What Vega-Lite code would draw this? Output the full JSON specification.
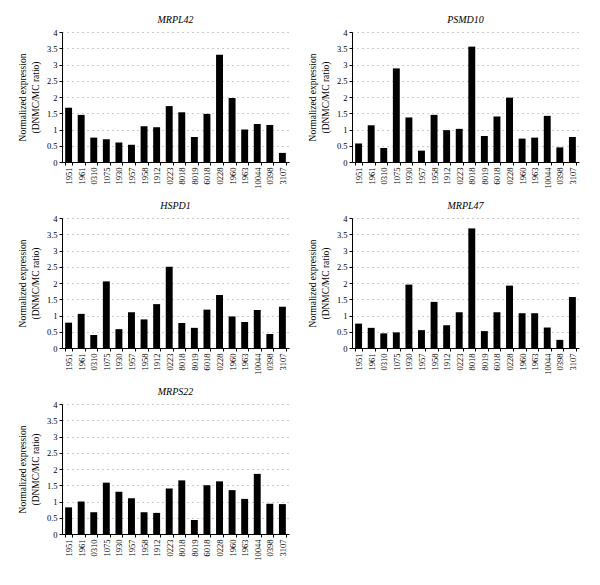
{
  "$schema": "https://vega.github.io/schema/vega-lite/v6.json",
  "background": "white",
  "padding": {"left": 17, "top": 15, "right": 5, "bottom": 5},
  "data": {"values": [
    {"gene":"MRPL42","sample":"1951","value":1.67},{"gene":"MRPL42","sample":"1961","value":1.45},{"gene":"MRPL42","sample":"0310","value":0.75},{"gene":"MRPL42","sample":"1075","value":0.70},{"gene":"MRPL42","sample":"1930","value":0.60},{"gene":"MRPL42","sample":"1957","value":0.53},{"gene":"MRPL42","sample":"1958","value":1.10},{"gene":"MRPL42","sample":"1912","value":1.07},{"gene":"MRPL42","sample":"0223","value":1.72},{"gene":"MRPL42","sample":"8018","value":1.53},{"gene":"MRPL42","sample":"8019","value":0.77},{"gene":"MRPL42","sample":"6018","value":1.48},{"gene":"MRPL42","sample":"0228","value":3.30},{"gene":"MRPL42","sample":"1960","value":1.97},{"gene":"MRPL42","sample":"1963","value":1.00},{"gene":"MRPL42","sample":"10044","value":1.17},{"gene":"MRPL42","sample":"0398","value":1.14},{"gene":"MRPL42","sample":"3107","value":0.28},
    {"gene":"PSMD10","sample":"1951","value":0.57},{"gene":"PSMD10","sample":"1961","value":1.13},{"gene":"PSMD10","sample":"0310","value":0.43},{"gene":"PSMD10","sample":"1075","value":2.88},{"gene":"PSMD10","sample":"1930","value":1.37},{"gene":"PSMD10","sample":"1957","value":0.35},{"gene":"PSMD10","sample":"1958","value":1.45},{"gene":"PSMD10","sample":"1912","value":0.98},{"gene":"PSMD10","sample":"0223","value":1.02},{"gene":"PSMD10","sample":"8018","value":3.55},{"gene":"PSMD10","sample":"8019","value":0.80},{"gene":"PSMD10","sample":"6018","value":1.40},{"gene":"PSMD10","sample":"0228","value":1.98},{"gene":"PSMD10","sample":"1960","value":0.72},{"gene":"PSMD10","sample":"1963","value":0.75},{"gene":"PSMD10","sample":"10044","value":1.42},{"gene":"PSMD10","sample":"0398","value":0.45},{"gene":"PSMD10","sample":"3107","value":0.77},
    {"gene":"HSPD1","sample":"1951","value":0.78},{"gene":"HSPD1","sample":"1961","value":1.05},{"gene":"HSPD1","sample":"0310","value":0.40},{"gene":"HSPD1","sample":"1075","value":2.05},{"gene":"HSPD1","sample":"1930","value":0.58},{"gene":"HSPD1","sample":"1957","value":1.10},{"gene":"HSPD1","sample":"1958","value":0.88},{"gene":"HSPD1","sample":"1912","value":1.35},{"gene":"HSPD1","sample":"0223","value":2.50},{"gene":"HSPD1","sample":"8018","value":0.77},{"gene":"HSPD1","sample":"8019","value":0.62},{"gene":"HSPD1","sample":"6018","value":1.18},{"gene":"HSPD1","sample":"0228","value":1.63},{"gene":"HSPD1","sample":"1960","value":0.97},{"gene":"HSPD1","sample":"1963","value":0.80},{"gene":"HSPD1","sample":"10044","value":1.17},{"gene":"HSPD1","sample":"0398","value":0.43},{"gene":"HSPD1","sample":"3107","value":1.27},
    {"gene":"MRPL47","sample":"1951","value":0.75},{"gene":"MRPL47","sample":"1961","value":0.62},{"gene":"MRPL47","sample":"0310","value":0.45},{"gene":"MRPL47","sample":"1075","value":0.48},{"gene":"MRPL47","sample":"1930","value":1.95},{"gene":"MRPL47","sample":"1957","value":0.55},{"gene":"MRPL47","sample":"1958","value":1.42},{"gene":"MRPL47","sample":"1912","value":0.70},{"gene":"MRPL47","sample":"0223","value":1.10},{"gene":"MRPL47","sample":"8018","value":3.68},{"gene":"MRPL47","sample":"8019","value":0.52},{"gene":"MRPL47","sample":"6018","value":1.10},{"gene":"MRPL47","sample":"0228","value":1.92},{"gene":"MRPL47","sample":"1960","value":1.07},{"gene":"MRPL47","sample":"1963","value":1.07},{"gene":"MRPL47","sample":"10044","value":0.63},{"gene":"MRPL47","sample":"0398","value":0.25},{"gene":"MRPL47","sample":"3107","value":1.57},
    {"gene":"MRPS22","sample":"1951","value":0.82},{"gene":"MRPS22","sample":"1961","value":1.00},{"gene":"MRPS22","sample":"0310","value":0.67},{"gene":"MRPS22","sample":"1075","value":1.58},{"gene":"MRPS22","sample":"1930","value":1.30},{"gene":"MRPS22","sample":"1957","value":1.10},{"gene":"MRPS22","sample":"1958","value":0.67},{"gene":"MRPS22","sample":"1912","value":0.65},{"gene":"MRPS22","sample":"0223","value":1.40},{"gene":"MRPS22","sample":"8018","value":1.65},{"gene":"MRPS22","sample":"8019","value":0.43},{"gene":"MRPS22","sample":"6018","value":1.50},{"gene":"MRPS22","sample":"0228","value":1.62},{"gene":"MRPS22","sample":"1960","value":1.35},{"gene":"MRPS22","sample":"1963","value":1.08},{"gene":"MRPS22","sample":"10044","value":1.85},{"gene":"MRPS22","sample":"0398","value":0.93},{"gene":"MRPS22","sample":"3107","value":0.92}
  ]},
  "columns": 2,
  "facet": {
    "field": "gene",
    "type": "nominal",
    "sort": ["MRPL42","PSMD10","HSPD1","MRPL47","MRPS22"],
    "header": {"title": null, "labelFont": "Liberation Serif", "labelFontStyle": "italic", "labelFontSize": 10, "labelColor": "black", "labelPadding": 3}
  },
  "spacing": {"column": 18, "row": 12},
  "resolve": {"axis": {"x": "independent", "y": "independent"}},
  "spec": {
    "width": 227,
    "height": 130,
    "mark": {"type": "bar", "color": "black"},
    "encoding": {
      "x": {
        "field": "sample", "type": "nominal",
        "sort": ["1951","1961","0310","1075","1930","1957","1958","1912","0223","8018","8019","6018","0228","1960","1963","10044","0398","3107"],
        "scale": {"paddingInner": 0.45, "paddingOuter": 0.25},
        "axis": {"title": null, "labelAngle": -90, "labelFont": "Liberation Serif", "labelFontSize": 8.5, "labelColor": "black", "tickBand": "extent", "tickSize": 3, "tickColor": "black", "domainColor": "black", "labelPadding": 2}
      },
      "y": {
        "field": "value", "type": "quantitative",
        "scale": {"domain": [0, 4], "nice": false},
        "axis": {
          "title": ["Normalized expression", "(DNMC/MC ratio)"],
          "titleFont": "Liberation Serif", "titleFontSize": 9.5, "titleFontWeight": "normal", "titleColor": "black", "titlePadding": 6, "titleLineHeight": 13,
          "values": [0, 0.5, 1, 1.5, 2, 2.5, 3, 3.5, 4], "format": "~g",
          "labelFont": "Liberation Serif", "labelFontSize": 8.5, "labelColor": "black",
          "tickSize": 3, "tickColor": "black", "domainColor": "black",
          "grid": true, "gridColor": "#999", "gridDash": [1, 4], "gridWidth": 1
        }
      }
    }
  },
  "config": {"view": {"stroke": null}}
}
